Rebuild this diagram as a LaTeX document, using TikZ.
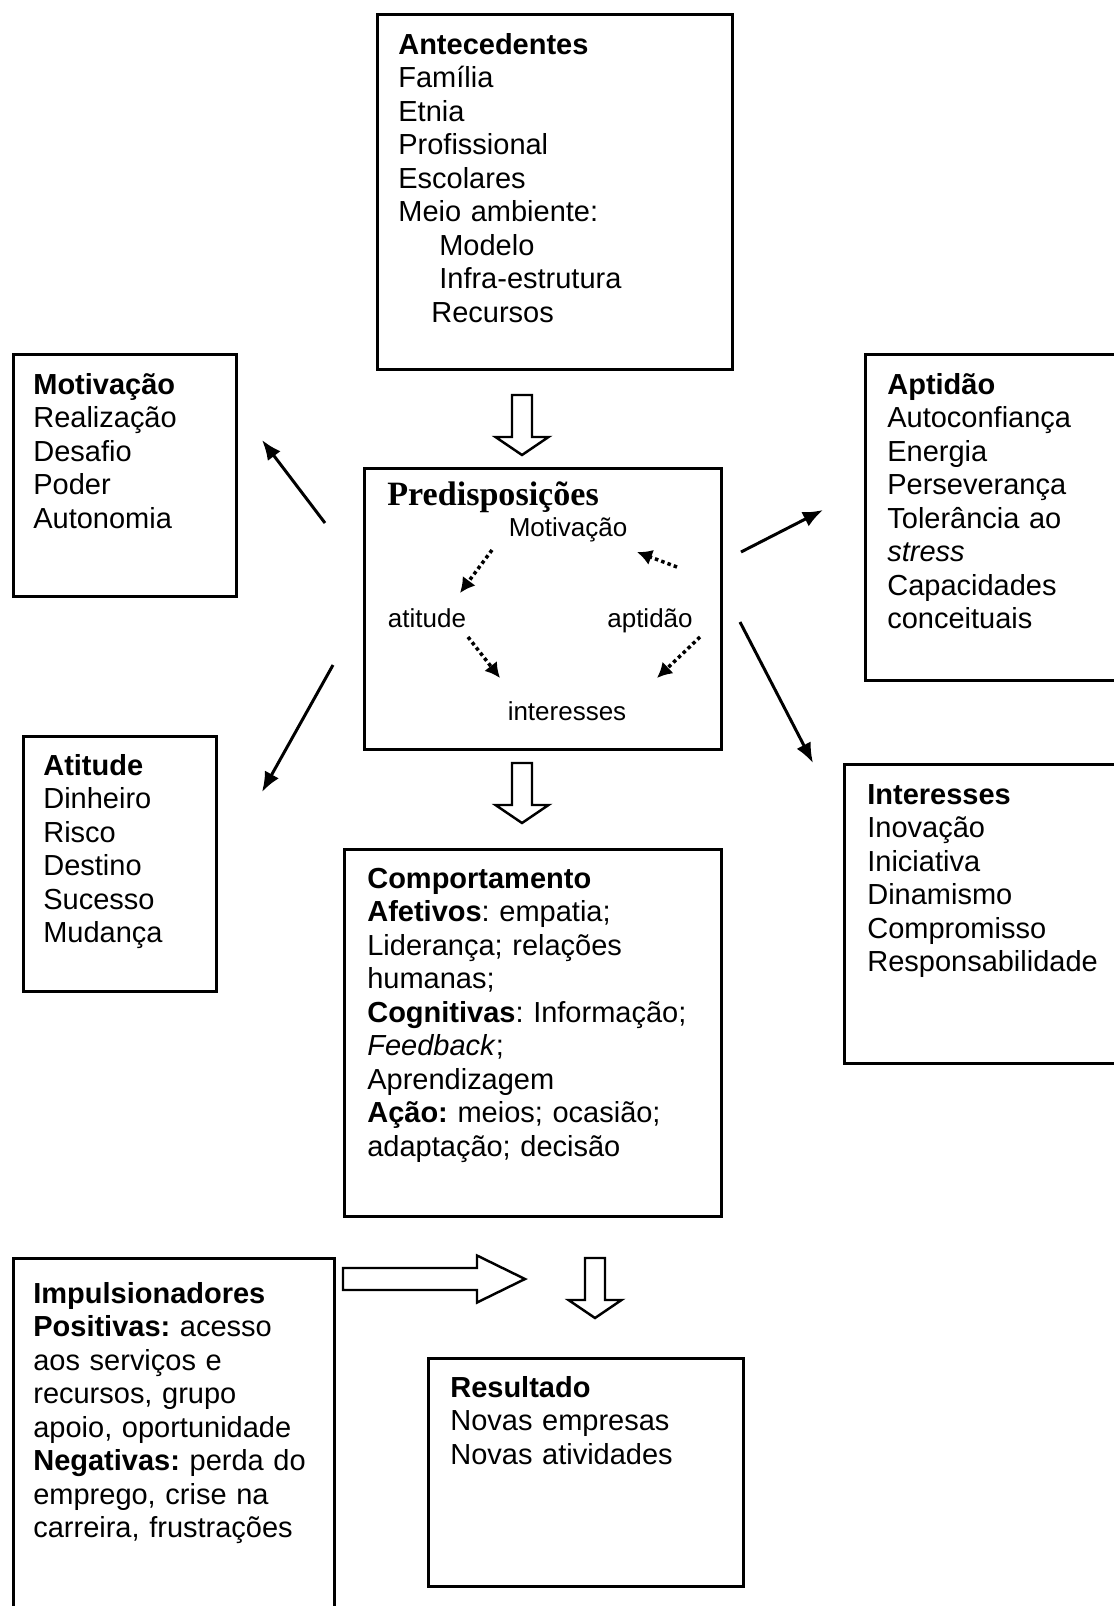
\documentclass[tikz,border=0pt]{standalone}
\usepackage{fontspec}
\setmainfont{Liberation Sans}
\newfontfamily\serifa{Liberation Serif}
\usetikzlibrary{arrows.meta}
\newcommand{\caixa}[5]{\node[draw,rectangle,line width=1.8pt,inner sep=0pt,anchor=north west,minimum width={(#4-#2)*0.02cm},minimum height={(#5-#3)*0.02cm}] (#1) at (#2,#3) {};}
\newcommand{\texto}[4]{\node[anchor=base west,inner sep=0pt,text width=12cm,align=left,font=\fontsize{16.5pt}{19.1pt}\selectfont\frenchspacing] (#1) at (#2,#3) {#4};}
\newcommand{\rotulo}[4]{\node[anchor=base,inner sep=0pt,font=\fontsize{14.8pt}{17pt}\selectfont] (#1) at (#2,#3) {#4};}
\newcommand{\ligacao}[2]{\draw[line width=1.7pt,-{Latex[length=0.4cm,width=0.32cm]}] (#1) -- (#2);}
\newcommand{\pontilhada}[2]{\draw[line width=2pt,dash pattern=on 2pt off 1.8pt,-{Latex[length=0.3cm,width=0.32cm]}] (#1) -- (#2);}
\newcommand{\setabaixo}[3]{\coordinate (#1) at (#2,#3);\draw[line width=1.4pt,fill=white] (#1) ++(-10,0) -- ++(0,42) -- ++(-16.5,0) -- ++(26.5,18) -- ++(26.5,-18) -- ++(-16.5,0) -- ++(0,-42) -- cycle;}
\newcommand{\setadireita}[3]{\coordinate (#1) at (#2,#3);\draw[line width=1.4pt,fill=white] (#1) ++(0,-11) -- ++(134,0) -- ++(0,-12.5) -- ++(48,23.5) -- ++(-48,23.5) -- ++(0,-12.5) -- ++(-134,0) -- cycle;}

\begin{document}
\begin{tikzpicture}[x=0.02cm,y=-0.02cm]
    \useasboundingbox (0,0) rectangle (1114,1606);
    \caixa{antec}{376}{13}{731}{368}
    \texto{tantec}{398}{54}{\textbf{Antecedentes}\\Família\\Etnia\\Profissional\\Escolares\\Meio ambiente:\\\hspace*{0.82cm}Modelo\\\hspace*{0.82cm}Infra-estrutura\\\hspace*{0.66cm}Recursos}
    \caixa{motiv}{12}{353}{235}{595}
    \texto{tmotiv}{33}{394}{\textbf{Motivação}\\Realização\\Desafio\\Poder\\Autonomia}
    \caixa{pred}{363}{467}{720}{748}
    \node[anchor=base west,inner sep=0pt,font=\serifa\bfseries\fontsize{19.4pt}{22pt}\selectfont] (tpred) at (387,505) {Predisposições};
    \rotulo{pmotiv}{568}{536}{Motivação} \rotulo{patit}{427}{627}{atitude}
    \rotulo{papt}{650}{627}{aptidão}    \rotulo{pinter}{567}{720}{interesses}
    \caixa{apt}{864}{353}{1130}{679}
    \texto{tapt}{887}{394}{\textbf{Aptidão}\\Autoconfiança\\Energia\\Perseverança\\Tolerância ao\\\textit{stress}\\Capacidades\\conceituais}
    \caixa{inter}{843}{763}{1130}{1062}
    \texto{tinter}{867}{804}{\textbf{Interesses}\\Inovação\\Iniciativa\\Dinamismo\\Compromisso\\Responsabilidade}
    \caixa{atit}{22}{735}{215}{990}
    \texto{tatit}{43}{775}{\textbf{Atitude}\\Dinheiro\\Risco\\Destino\\Sucesso\\Mudança}
    \caixa{comp}{343}{848}{720}{1215}
    \texto{tcomp}{367}{888}{\textbf{Comportamento}\\\textbf{Afetivos}: empatia;\\Liderança; relações\\humanas;\\\textbf{Cognitivas}: Informação;\\\textit{Feedback};\\Aprendizagem\\\textbf{Ação:} meios; ocasião;\\adaptação; decisão}
    \caixa{impul}{12}{1257}{333}{1630}
    \texto{timpul}{33}{1303}{\textbf{Impulsionadores}\\\textbf{Positivas:} acesso\\aos serviços e\\recursos, grupo\\apoio, oportunidade\\\textbf{Negativas:} perda do\\emprego, crise na\\carreira, frustrações}
    \caixa{result}{427}{1357}{742}{1585}
    \texto{tresult}{450}{1397}{\textbf{Resultado}\\Novas empresas\\Novas atividades}
    % setas largas
    \setabaixo{s1}{522}{395} \setabaixo{s2}{522}{763}
    \setabaixo{s3}{595}{1258} \setadireita{s4}{343}{1279}
    % setas simples
    \coordinate (a1) at (325,523); \coordinate (b1) at (262,440);
    \coordinate (a2) at (741,552); \coordinate (b2) at (823,510);
    \coordinate (a3) at (740,622); \coordinate (b3) at (813,763);
    \coordinate (a4) at (333,665); \coordinate (b4) at (262,792);
    \ligacao{a1}{b1}\ligacao{a2}{b2}\ligacao{a3}{b3}\ligacao{a4}{b4}
    % setas pontilhadas
    \coordinate (c1) at (492,550); \coordinate (d1) at (460,593);
    \coordinate (c2) at (677,567); \coordinate (d2) at (637,552);
    \coordinate (c3) at (468,637); \coordinate (d3) at (500,678);
    \coordinate (c4) at (700,637); \coordinate (d4) at (657,678);
    \pontilhada{c1}{d1}\pontilhada{c2}{d2}\pontilhada{c3}{d3}\pontilhada{c4}{d4}
\end{tikzpicture}
\end{document}
